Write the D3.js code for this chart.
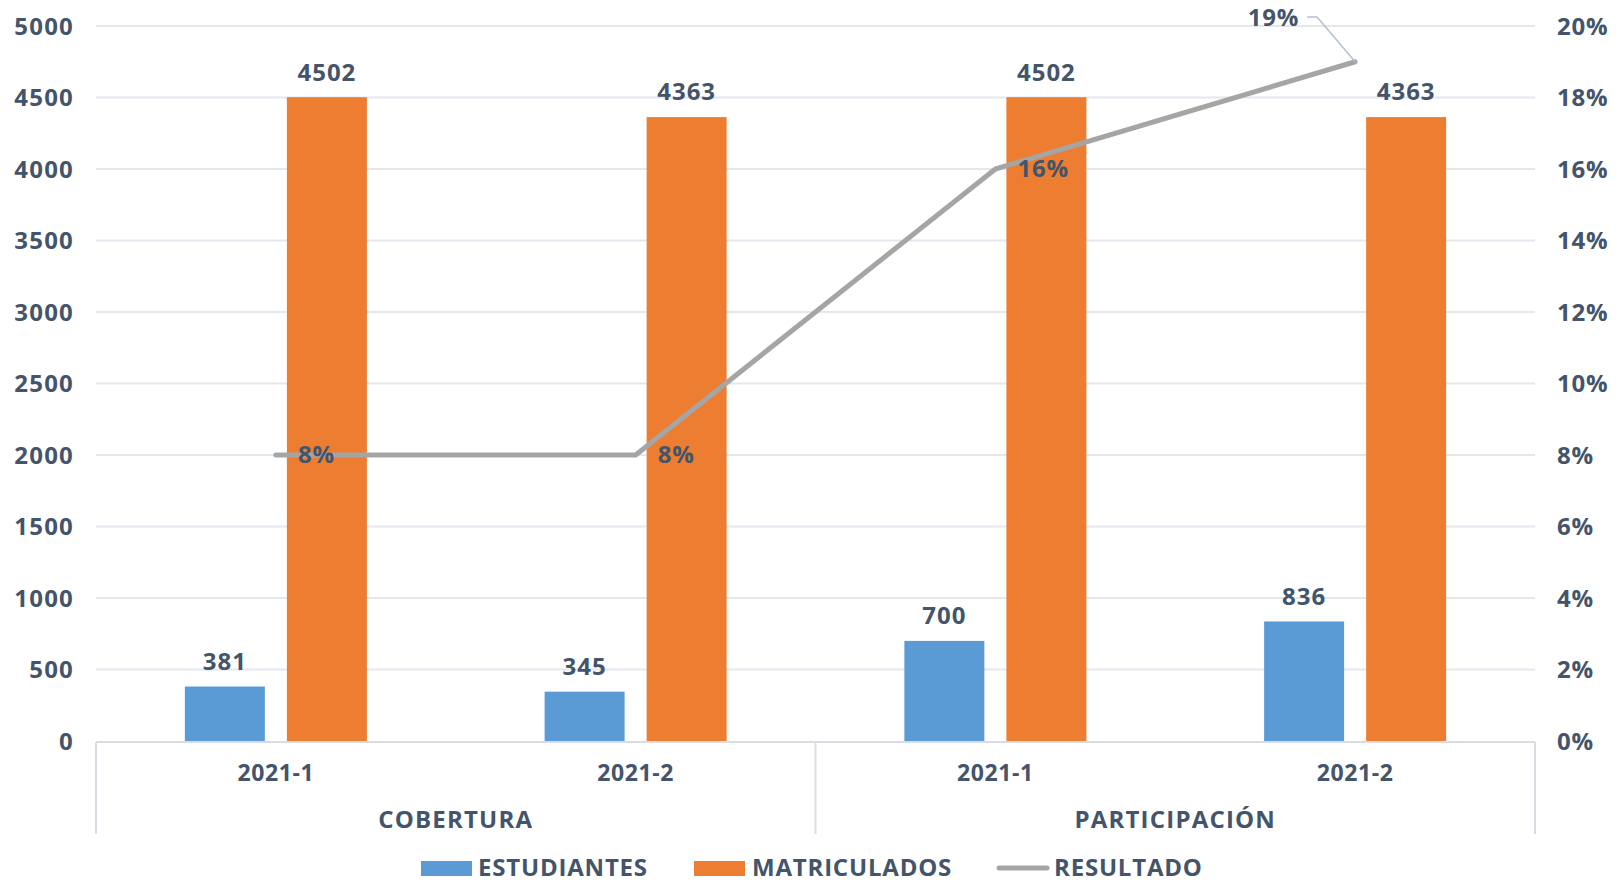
<!DOCTYPE html>
<html>
<head>
<meta charset="utf-8">
<script src="https://cdn.jsdelivr.net/npm/d3@7"></script>
<style>
  body { margin: 0; background: #fff; }
  svg text { font-family: "Open Sans", sans-serif; font-weight: 700; fill: #44546a; }
</style>
</head>
<body>
<svg id="chart" width="1619" height="882"></svg>
<script>
// data
const groups = ["COBERTURA", "PARTICIPACIÓN"];
const periods = ["2021-1", "2021-2", "2021-1", "2021-2"];
const estudiantes = [381, 345, 700, 836];
const matriculados = [4502, 4363, 4502, 4363];
const resultado = [0.08, 0.08, 0.16, 0.19];
const leftTicks = [0, 500, 1000, 1500, 2000, 2500, 3000, 3500, 4000, 4500, 5000];
const rightTicks = [0, 0.02, 0.04, 0.06, 0.08, 0.10, 0.12, 0.14, 0.16, 0.18, 0.20];

const svg = d3.select("#chart");
const plotLeft = 96, plotRight = 1535, plotTop = 26, plotBottom = 741;

let x0 = d3.scaleBand()
  .domain(d3.range(periods.length))
  .range([plotLeft, plotRight]);

let x1 = d3.scaleBand()
  .domain(["est", "mat"])
  .range([0, x0.bandwidth()])
  .paddingInner(0.216)
  .paddingOuter(0.871);

let y = d3.scaleLinear().domain([0, 5000]).range([plotBottom, plotTop]);
let yR = d3.scaleLinear().domain([0, 0.2]).range([plotBottom, plotTop]);

// gridlines
svg.append("g")
  .selectAll("line")
  .data(leftTicks.slice(1))
  .enter().append("line")
  .attr("x1", plotLeft).attr("x2", plotRight)
  .attr("y1", d => y(d)).attr("y2", d => y(d))
  .attr("stroke", "#e3e7ee")
  .attr("stroke-width", 2);

// left axis
let yAxis = d3.axisLeft(y).tickValues(leftTicks).tickSize(0).tickPadding(0).tickFormat(d3.format("d"));
let gL = svg.append("g").attr("transform", "translate(74,0)").call(yAxis);
gL.select(".domain").remove();
gL.selectAll("text").style("font-size", "24px").attr("dy", "0.35em").style("letter-spacing", "1.2px");

// right axis
let yAxisR = d3.axisRight(yR).tickValues(rightTicks).tickSize(0).tickPadding(0)
  .tickFormat(d => Math.round(d * 100) + "%");
let gR = svg.append("g").attr("transform", "translate(1557,0)").call(yAxisR);
gR.select(".domain").remove();
gR.selectAll("text").style("font-size", "24px").attr("dy", "0.35em").style("letter-spacing", "0.8px");

// bars
let barData = periods.map((p, i) => ({ i: i, est: estudiantes[i], mat: matriculados[i] }));
let barG = svg.append("g");
let grp = barG.selectAll(".grp")
  .data(barData)
  .enter().append("g")
  .attr("transform", d => "translate(" + x0(d.i) + ",0)");

const colors = { est: "#5b9bd5", mat: "#ed7d31" };
grp.selectAll("rect")
  .data(d => ["est", "mat"].map(k => ({ k: k, v: d[k] })))
  .enter().append("rect")
  .attr("x", d => x1(d.k))
  .attr("width", x1.bandwidth())
  .attr("y", d => y(d.v))
  .attr("height", d => plotBottom - y(d.v))
  .attr("fill", d => colors[d.k]);

grp.selectAll(".lbl")
  .data(d => ["est", "mat"].map(k => ({ k: k, v: d[k] })))
  .enter().append("text")
  .attr("class", "lbl")
  .attr("x", d => x1(d.k) + x1.bandwidth() / 2)
  .attr("y", d => y(d.v) - 25)
  .attr("dy", "0.35em")
  .attr("text-anchor", "middle")
  .style("font-size", "24px")
  .style("letter-spacing", "1px")
  .text(d => d.v);

// category axis box
let axisG = svg.append("g").attr("stroke", "#d9dde3").attr("stroke-width", 2);
axisG.append("line").attr("x1", plotLeft).attr("x2", plotRight).attr("y1", plotBottom + 1).attr("y2", plotBottom + 1);
[plotLeft, x0(2), plotRight].forEach(xx => {
  axisG.append("line").attr("x1", xx).attr("x2", xx).attr("y1", plotBottom + 1).attr("y2", 834);
});

svg.append("g").selectAll("text")
  .data(periods)
  .enter().append("text")
  .attr("x", (d, i) => x0(i) + x0.bandwidth() / 2)
  .attr("y", 773)
  .attr("dy", "0.35em")
  .attr("text-anchor", "middle")
  .style("font-size", "23px")
  .style("letter-spacing", "0.6px")
  .text(d => d);

svg.append("g").selectAll("text")
  .data(groups)
  .enter().append("text")
  .attr("x", (d, i) => x0(i * 2) + x0.bandwidth())
  .attr("y", 820)
  .attr("dy", "0.35em")
  .attr("text-anchor", "middle")
  .style("font-size", "24px")
  .style("letter-spacing", "1.2px")
  .text(d => d);

// line
let line = d3.line()
  .x((d, i) => x0(i) + x0.bandwidth() / 2)
  .y(d => yR(d));

svg.append("path")
  .datum(resultado)
  .attr("d", line)
  .attr("fill", "none")
  .attr("stroke", "#a5a5a5")
  .attr("stroke-width", 5)
  .attr("stroke-linecap", "round")
  .attr("stroke-linejoin", "round");

// line labels
let last = resultado.length - 1;
svg.append("g").selectAll("text")
  .data(resultado.slice(0, last))
  .enter().append("text")
  .attr("x", (d, i) => x0(i) + x0.bandwidth() / 2 + 22)
  .attr("y", d => yR(d))
  .attr("dy", "0.35em")
  .style("font-size", "24px")
  .style("letter-spacing", "0.8px")
  .text(d => Math.round(d * 100) + "%");

// last label with leader line
let px = x0(last) + x0.bandwidth() / 2, py = yR(resultado[last]);
svg.append("path")
  .attr("d", "M" + (px - 48) + "," + 17 + "H" + (px - 38) + "L" + px + "," + py)
  .attr("fill", "none")
  .attr("stroke", "#b4c0d0")
  .attr("stroke-width", 1.5);
svg.append("text")
  .attr("x", px - 56)
  .attr("y", 18)
  .attr("dy", "0.35em")
  .attr("text-anchor", "end")
  .style("font-size", "24px")
  .style("letter-spacing", "0.8px")
  .text(Math.round(resultado[last] * 100) + "%");

// legend
let legend = svg.append("g");
let ly = 868;
legend.append("rect").attr("x", 421).attr("y", ly - 7).attr("width", 51).attr("height", 15).attr("fill", colors.est);
legend.append("text").attr("x", 478).attr("y", ly).attr("dy", "0.35em").style("font-size", "24px").style("letter-spacing", "0.8px").text("ESTUDIANTES");
legend.append("rect").attr("x", 694).attr("y", ly - 7).attr("width", 51).attr("height", 15).attr("fill", colors.mat);
legend.append("text").attr("x", 752).attr("y", ly).attr("dy", "0.35em").style("font-size", "24px").style("letter-spacing", "0.8px").text("MATRICULADOS");
legend.append("line").attr("x1", 999).attr("x2", 1047).attr("y1", ly).attr("y2", ly)
  .attr("stroke", "#a5a5a5").attr("stroke-width", 5).attr("stroke-linecap", "round");
legend.append("text").attr("x", 1054).attr("y", ly).attr("dy", "0.35em").style("font-size", "24px").style("letter-spacing", "0.8px").text("RESULTADO");
</script>
</body>
</html>
